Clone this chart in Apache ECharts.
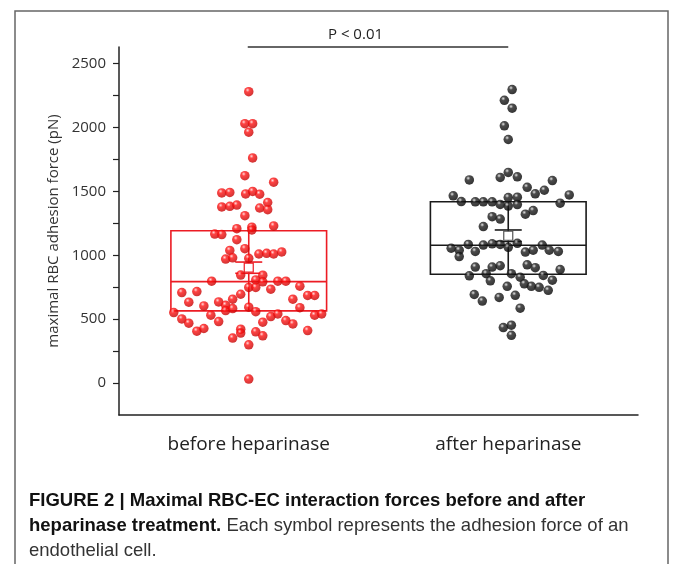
<!DOCTYPE html>
<html>
<head>
<meta charset="utf-8">
<script src="https://cdn.jsdelivr.net/npm/echarts@6/dist/echarts.min.js"></script>
<style>
  html, body { margin: 0; padding: 0; background: #fff; }
  #chart { width: 673px; height: 564px; }
</style>
</head>
<body>
<div id="chart"></div>
<script>
// categories and axis
const categories = ['before heparinase', 'after heparinase'];
const yMin = -250;
const yMax = 2630;
const yTickValues = [0, 250, 500, 750, 1000, 1250, 1500, 1750, 2000, 2250, 2500];
const yLabelValues = [0, 500, 1000, 1500, 2000, 2500];

// adhesion force (pN) per cell, with horizontal spread (% of category band)
const beforeValues = [2280, 2030, 2030, 1963, 1762, 1623, 1572,
  1488, 1492, 1480, 1500, 1478,
  1378, 1383, 1393, 1370, 1413, 1357,
  1310, 1230, 1220, 1198, 1208, 1166, 1162, 1122, 1052, 1038,
  1010, 1015, 1010, 1026, 970, 980, 976,
  845, 844, 797, 807, 792, 797, 797,
  758, 748, 748, 735, 716, 708, 695, 656, 686, 686, 656,
  633, 604, 635, 609, 567, 583, 594, 559, 590,
  552, 531, 502, 469, 481, 406, 427,
  476, 520, 541, 489, 463, 531, 541, 411,
  422, 391, 352, 401, 370, 299, 31];
const beforeJitter = [0, -1.5, 1.5, 0, 1.5, -1.5, 9.6,
  -10.4, -7.3, -1.2, 1.5, 4.2,
  -10.4, -7.3, -4.6, 4.2, 7.3, 7.3,
  -1.5, 9.6, 1.2, 1.2, -4.6, -13.1, -10.4, -4.6, -1.5, -7.3,
  3.9, 6.9, 9.6, 12.7, -8.9, -6.2, 0,
  -3.1, 5.4, -14.3, 2.7, 5.4, 11.2, 14.3,
  19.7, 0, 2.7, 8.5, -20, -25.8, -3.1, -6.2, 22.7, 25.4, 17,
  -23.1, -17.3, -11.6, -8.9, -8.9, -6.2, 0, 2.7, 19.7,
  -28.9, -14.6, -25.8, -23.1, -11.6, -20, -17.3,
  5.4, 8.5, 11.2, 14.3, 17, 25.4, 28.1, 22.7,
  -3.1, -3.1, -6.2, 2.7, 5.4, 0, 0];

const afterValues = [2297, 2213, 2151, 2013, 1906,
  1590, 1609, 1648, 1614, 1585,
  1532, 1509, 1481, 1472, 1408,
  1465, 1420, 1418, 1418, 1418, 1398, 1452, 1385, 1455, 1397,
  1302, 1283, 1322, 1350, 1225,
  1055, 1040, 990, 1085, 1030, 1080, 1090, 1085, 1062, 1094, 1025, 1040, 1080, 1040, 1030,
  908, 908, 918, 925, 903, 888,
  839, 856, 800, 856, 828, 777, 757, 749, 726, 805, 842, 757,
  693, 642, 670, 687, 586,
  434, 453, 374];
const afterJitter = [1.5, -1.5, 1.5, -1.5, 0,
  -15, -3.1, 0, 3.5, 17,
  7.3, 13.9, 10.4, 23.5, 20,
  -21.2, -18.1, -12.7, -9.6, -6.2, -3.1, 0, 0, 3.5, 3.5,
  -6.2, -3.1, 6.6, 9.6, -9.6,
  -22, -18.9, -18.9, -15.4, -12.7, -9.6, -6.2, -3.1, 0, 3.5, 6.6, 9.6, 13.1, 15.8, 19.3,
  -12.7, -6.2, -3.1, 7.3, 10.4, 20,
  -15, -8.5, -6.9, 1.2, 4.6, 6.2, 8.9, 11.9, 15.4, 17, 13.5, -0.4,
  -13.1, -10, -3.5, 2.7, 4.6,
  -1.9, 1.2, 1.2];

// box statistics
const boxQ1 = [565, 852];
const boxMedian = [794, 1078];
const boxQ3 = [1192, 1419];
const meanValues = [903, 1153];
const seValues = [44, 45];
const pText = 'P < 0.01';

const RED = '#ec1c24';
const BLACK = '#1a1a1a';

function sphere(base, light, dark) {
  return new echarts.graphic.RadialGradient(0.38, 0.32, 0.72, [
    {offset: 0, color: light},
    {offset: 0.3, color: base},
    {offset: 1, color: dark}
  ]);
}

function points(values, jitter, center) {
  return values.map((v, i) => [center + jitter[i] / 100, v]);
}

const boxData = categories.map((c, i) => [i, boxQ1[i], boxMedian[i], boxQ3[i], meanValues[i], seValues[i]]);

const chart = echarts.init(document.getElementById('chart'), null, {renderer: 'canvas'});

const option = {
  backgroundColor: '#fff',
  animation: false,
  grid: {left: 119, right: 35, top: 47, bottom: 149, containLabel: false, outerBoundsMode: 'none'},
  xAxis: [{
    type: 'category',
    data: categories,
    boundaryGap: true,
    axisLine: {onZero: false, lineStyle: {color: '#222', width: 1.5}},
    axisTick: {alignWithLabel: true, length: 5, lineStyle: {color: '#222', width: 1.2}},
    axisLabel: {fontFamily: 'Open Sans', fontSize: 19, color: '#222', margin: 20},
    splitLine: {show: false}
  }, {
    type: 'value',
    min: 0,
    max: 2,
    show: false
  }],
  yAxis: {
    type: 'value',
    min: yMin,
    max: yMax,
    name: 'maximal RBC adhesion force (pN)',
    nameLocation: 'middle',
    nameGap: 57,
    nameTextStyle: {fontFamily: 'Open Sans', fontSize: 15, color: '#333'},
    axisLine: {show: true, lineStyle: {color: '#222', width: 1.5}},
    axisTick: {show: true, length: 6, customValues: yTickValues, lineStyle: {color: '#222', width: 1.2}},
    axisLabel: {customValues: yLabelValues, formatter: v => String(v),
      fontFamily: 'Open Sans', fontSize: 15, color: '#333', margin: 13},
    splitLine: {show: false}
  },
  series: [{
    type: 'custom',
    name: 'box',
    xAxisIndex: 0,
    z: 1,
    clip: false,
    data: boxData,
    renderItem: function (params, api) {
      const idx = api.value(0);
      const color = idx === 0 ? RED : BLACK;
      const band = api.size([1, 0])[0];
      const hw = band * 0.3;
      const cap = band * 0.052;
      const pQ1 = api.coord([idx, api.value(1)]);
      const pMed = api.coord([idx, api.value(2)]);
      const pQ3 = api.coord([idx, api.value(3)]);
      const pMean = api.coord([idx, api.value(4)]);
      const pHi = api.coord([idx, api.value(4) + api.value(5)]);
      const pLo = api.coord([idx, api.value(4) - api.value(5)]);
      const cx = pQ1[0];
      const ls = {stroke: color, lineWidth: 1.6, fill: null};
      return {
        type: 'group',
        children: [
          {type: 'rect', shape: {x: cx - hw, y: pQ3[1], width: hw * 2, height: pQ1[1] - pQ3[1]}, style: ls},
          {type: 'line', shape: {x1: cx - hw, y1: pMed[1], x2: cx + hw, y2: pMed[1]}, style: ls},
          {type: 'line', shape: {x1: cx, y1: pQ3[1], x2: cx, y2: pQ1[1]}, style: ls},
          {type: 'line', shape: {x1: cx - cap, y1: pHi[1], x2: cx + cap, y2: pHi[1]}, style: ls},
          {type: 'line', shape: {x1: cx - cap, y1: pLo[1], x2: cx + cap, y2: pLo[1]}, style: ls},
          {type: 'rect', z2: 5, shape: {x: cx - 4.5, y: pMean[1] - 4.5, width: 9, height: 9},
            style: {fill: '#fff', stroke: idx === 0 ? RED : '#555', lineWidth: 1.2}}
        ]
      };
    }
  }, {
    type: 'scatter',
    name: 'before heparinase',
    xAxisIndex: 1,
    z: 3,
    symbol: 'circle',
    symbolSize: 9.5,
    itemStyle: {color: sphere('#ff1414', '#ffd0d0', '#c00000')},
    data: points(beforeValues, beforeJitter, 0.5)
  }, {
    type: 'scatter',
    name: 'after heparinase',
    xAxisIndex: 1,
    z: 3,
    symbol: 'circle',
    symbolSize: 9.5,
    itemStyle: {color: sphere('#202020', '#e0e0e0', '#000')},
    data: points(afterValues, afterJitter, 1.5)
  }, {
    type: 'custom',
    name: 'significance',
    xAxisIndex: 0,
    z: 2,
    clip: false,
    data: [[0, 1, yMax]],
    renderItem: function (params, api) {
      const a = api.coord([api.value(0), api.value(2)]);
      const b = api.coord([api.value(1), api.value(2)]);
      const mid = (a[0] + b[0]) / 2;
      return {
        type: 'group',
        children: [
          {type: 'line', shape: {x1: a[0] - 1, y1: a[1], x2: b[0], y2: b[1]}, style: {stroke: '#333', lineWidth: 1.4}},
          {type: 'text', x: mid - 23, y: a[1] - 12,
            style: {text: pText, fontFamily: 'Open Sans', fontSize: 15, fill: '#222', align: 'center', verticalAlign: 'middle'}}
        ]
      };
    }
  }],
  graphic: [{
    type: 'rect',
    shape: {x: 15, y: 11, width: 653, height: 600},
    style: {fill: null, stroke: '#666', lineWidth: 1.5},
    silent: true
  }, {
    type: 'text',
    left: 29,
    top: 491,
    style: {
      text: '{b|FIGURE 2 | Maximal RBC-EC interaction forces before and after}\n{b|heparinase treatment.}{r| Each symbol represents the adhesion force of an}\n{r|endothelial cell.}',
      rich: {
        b: {fontFamily: 'Liberation Sans', fontWeight: 'bold', fontSize: 18.5, fill: '#111', lineHeight: 25},
        r: {fontFamily: 'Liberation Sans', fontSize: 18.5, fill: '#333', lineHeight: 25}
      }
    }
  }]
};

chart.setOption(option);
</script>
</body>
</html>
